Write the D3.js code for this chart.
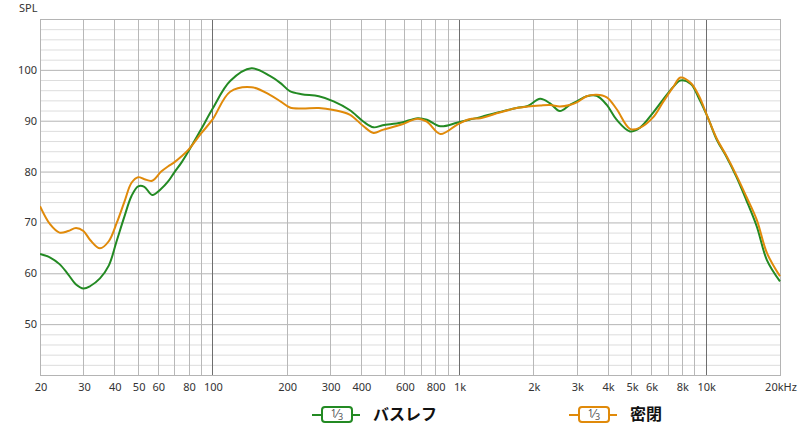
<!DOCTYPE html>
<html><head><meta charset="utf-8">
<script src="https://cdn.jsdelivr.net/npm/d3@7/dist/d3.min.js"></script>
<style>
body{margin:0;background:#fff;}
svg{display:block;font-family:"Noto Sans","Open Sans",sans-serif;}
</style></head>
<body><svg id="c" width="800" height="426"></svg>
<script>
const freqs = [20,22,24,26,28,30,32,35,38,41,44,47,50,53,57,62,66,70,75,80,90,100,118,144,171,190,206,230,270,310,360,410,450,490,580,680,740,840,980,1100,1220,1460,1710,1900,2130,2340,2560,2810,3000,3290,3610,3970,4350,4930,5400,6100,6700,7400,7900,8700,9400,10200,11100,12100,13300,14600,16100,17700,20000];
const bassReflex = [63.8,63.1,61.8,59.8,57.8,57.0,57.5,59.0,61.5,66.5,71.2,75.2,77.1,77.0,75.4,76.6,78.0,79.8,81.8,84.0,88.3,92.3,97.8,100.3,98.8,97.3,95.8,95.2,94.8,93.8,92.1,89.8,88.7,89.1,89.6,90.5,90.2,88.9,89.6,90.2,90.7,91.7,92.5,92.9,94.3,93.4,91.9,93.1,93.8,94.8,94.9,93.1,90.2,87.9,88.6,91.5,94.1,96.7,97.9,97.2,94.3,90.6,86.2,83.0,79.0,74.4,69.2,62.6,58.4];
const closed = [73.2,69.6,68.0,68.3,68.9,68.3,66.5,64.9,66.3,70.0,74.1,77.8,78.9,78.5,78.2,80.0,81.0,81.8,83.0,84.3,87.5,90.2,95.7,96.6,95.1,93.7,92.6,92.4,92.5,92.1,91.2,88.9,87.6,88.2,89.2,90.4,89.8,87.4,89.2,90.3,90.5,91.6,92.5,92.8,93.0,93.1,92.8,93.1,93.6,94.8,95.1,94.6,92.3,88.4,88.6,90.6,93.6,96.7,98.5,97.4,94.8,90.6,86.4,83.2,79.3,75.1,70.5,64.0,59.4];
const xTickVals = [20,30,40,50,60,80,100,200,300,400,600,800,1000,2000,3000,4000,5000,6000,8000,10000,20000];
const xTickLabels = ["20","30","40","50","60","80","100","200","300","400","600","800","1k","2k","3k","4k","5k","6k","8k","10k","20kHz"];
const yTickVals = [50,60,70,80,90,100];
const seriesNames = ["バスレフ","密閉"];
const seriesColors = ["#238a23","#e08a0a"];

const svg = d3.select("#c");
const L=40,R=780,T=19,B=375;
const x = d3.scaleLog().domain([20,20000]).range([L,R]);
const y = d3.scaleLinear().domain([40,110]).range([B,T]);

// grid
const g = svg.append("g");
const minorY = d3.range(40,111,2).filter(v=>v%10!==0);
g.selectAll(".hm").data(minorY).join("line")
  .attr("x1",L).attr("x2",R).attr("y1",d=>y(d)+0.5).attr("y2",d=>y(d)+0.5)
  .attr("stroke","#dddddd").attr("stroke-width",1);
g.selectAll(".hM").data(d3.range(40,111,10)).join("line")
  .attr("x1",L).attr("x2",R).attr("y1",d=>y(d)+0.5).attr("y2",d=>y(d)+0.5)
  .attr("stroke","#b4b4b4").attr("stroke-width",1);
const vlines=[];
[10,100,1000,10000].forEach(dec=>{for(let k=1;k<10;k++){const f=dec*k;if(f>=20&&f<=20000)vlines.push(f);}});
vlines.push(20000);
g.selectAll(".v").data(vlines).join("line")
  .attr("x1",d=>Math.round(x(d))+0.5).attr("x2",d=>Math.round(x(d))+0.5)
  .attr("y1",T).attr("y2",B)
  .attr("stroke",d=>[100,1000,10000].includes(d)?"#6e6e6e":"#b8b8b8").attr("stroke-width",1);
g.append("rect").attr("x",L+0.5).attr("y",T+0.5).attr("width",R-L).attr("height",B-T)
  .attr("fill","none").attr("stroke","#b4b4b4");

// axes labels
svg.append("g").selectAll("text").data(xTickVals).join("text")
  .attr("x",d=>x(d)+1).attr("y",391).attr("text-anchor","middle")
  .attr("font-size",11).attr("fill","#333").text((d,i)=>xTickLabels[i]);
svg.append("g").selectAll("text").data(yTickVals).join("text")
  .attr("x",37).attr("y",d=>y(d)+4).attr("text-anchor","end")
  .attr("font-size",11).attr("fill","#333").text(d=>d);
svg.append("text").attr("x",19).attr("y",12).attr("font-size",11).attr("fill","#333").text("SPL");

// lines
svg.append("clipPath").attr("id","cp").append("rect").attr("x",L).attr("y",T).attr("width",R-L+1).attr("height",B-T);
const line = d3.line().x(d=>x(d[0])).y(d=>y(d[1])).curve(d3.curveCatmullRom.alpha(0.5));
[bassReflex,closed].forEach((vals,i)=>{
  svg.append("path").attr("clip-path","url(#cp)")
    .datum(freqs.map((f,j)=>[f,vals[j]]))
    .attr("d",line).attr("fill","none").attr("stroke",seriesColors[i])
    .attr("stroke-width",2).attr("stroke-linejoin","round");
});

// legend
const legX=[312,569];
seriesNames.forEach((n,i)=>{
  const lg=svg.append("g").attr("transform",`translate(${legX[i]},0)`);
  lg.append("line").attr("x1",0).attr("x2",48).attr("y1",415).attr("y2",415)
    .attr("stroke",seriesColors[i]).attr("stroke-width",2);
  lg.append("rect").attr("x",10).attr("y",407).attr("width",30).attr("height",15).attr("rx",3)
    .attr("fill","#fff").attr("stroke",seriesColors[i]).attr("stroke-width",2);
  const t=lg.append("text").attr("x",25).attr("y",418).attr("text-anchor","middle")
    .attr("font-size",10).attr("fill","#555");
  t.append("tspan").attr("font-size",10).attr("dy",-1).text("1");
  t.append("tspan").attr("font-size",12).attr("dy",1).text("⁄");
  t.append("tspan").attr("font-size",9).attr("dy",2).text("3");
  lg.append("text").attr("x",61).attr("y",420).attr("font-size",16).attr("font-weight","bold")
    .attr("font-family","'Noto Sans CJK JP',sans-serif").attr("fill","#111").text(n);
});
</script></body></html>
